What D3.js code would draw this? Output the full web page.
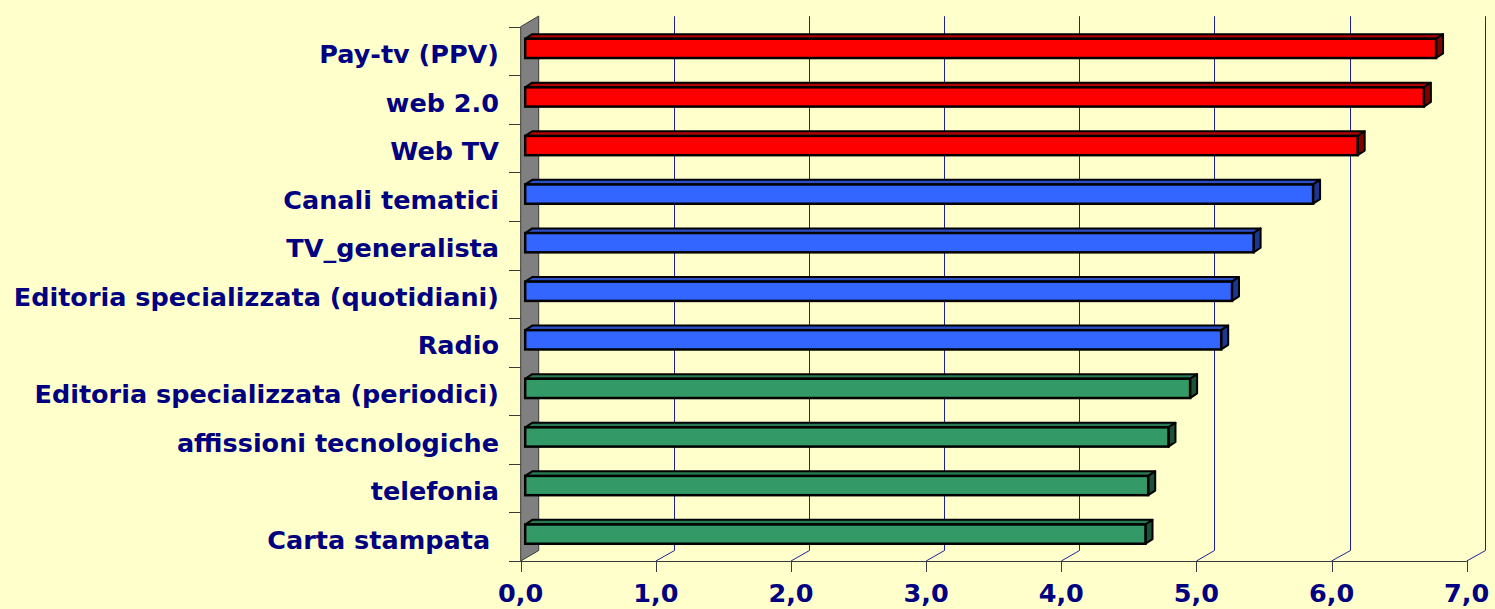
<!DOCTYPE html>
<html>
<head>
<meta charset="utf-8">
<script src="https://cdn.jsdelivr.net/npm/d3@7/dist/d3.min.js"></script>
<style>
  html, body { margin: 0; padding: 0; background: #FFFFCC; }
  svg { display: block; }
  text { font-family: "DejaVu Sans", Verdana, sans-serif; font-weight: bold; fill: #000080; white-space: pre; }
</style>
</head>
<body>
<svg id="chart" width="1495" height="609"></svg>
<script>
// values
const categories = ["Pay-tv (PPV)", "web 2.0", "Web TV", "Canali tematici", "TV_generalista",
  "Editoria specializzata (quotidiani)", "Radio", "Editoria specializzata (periodici)",
  "affissioni tecnologiche", "telefonia", "Carta stampata "];
const values = [6.74, 6.65, 6.16, 5.83, 5.39, 5.23, 5.15, 4.92, 4.76, 4.61, 4.59];
const groups = ["top", "top", "top", "mid", "mid", "mid", "mid", "low", "low", "low", "low"];
const xTicks = [0, 1, 2, 3, 4, 5, 6, 7];

const palette = {
  top: {front: "#FF0000", roof: "#B00000", side: "#800000"},
  mid: {front: "#3366FF", roof: "#2a4fc8", side: "#1c3790"},
  low: {front: "#339966", roof: "#277a52", side: "#1b5238"}
};

const svg = d3.select("#chart");
const frontLeft = 520.7, frontRight = 1466.7, plotTop = 26.7, floorY = 561;
const depth = {dx: 18, dy: -10.5};       // wall depth
const barOff = {dx: 4.5, dy: -2.6};      // bar front face inside the depth
const barDepth = {dx: 7, dy: -4.6};
const barH = 19.3;

let x = d3.scaleLinear().domain([0, 7]).range([frontLeft, frontRight]);
let y = d3.scaleBand().domain(categories).range([plotTop, floorY]).padding(0);

let g = svg.append("g");

// side wall
g.append("path")
  .attr("d", `M${frontLeft},${plotTop} L${frontLeft + depth.dx},${plotTop + depth.dy - 0.2} L${frontLeft + depth.dx},${floorY + depth.dy} L${frontLeft},${floorY} Z`)
  .attr("fill", "#808080")
  .attr("stroke", "#3a3a3a")
  .attr("stroke-width", 1);

// back gridlines + floor diagonals
xTicks.slice(1).forEach(t => {
  let bx = Math.round(x(t) + depth.dx) + 0.5;
  g.append("line")
    .attr("x1", bx).attr("x2", bx)
    .attr("y1", plotTop + depth.dy).attr("y2", floorY + depth.dy)
    .attr("stroke", "#20209a").attr("stroke-width", 1);
  g.append("line")
    .attr("x1", x(t)).attr("y1", floorY)
    .attr("x2", bx).attr("y2", floorY + depth.dy)
    .attr("stroke", "#20209a").attr("stroke-width", 1);
});

// floor front line and ticks
g.append("line")
  .attr("x1", 509).attr("x2", frontRight)
  .attr("y1", floorY + 0.5).attr("y2", floorY + 0.5)
  .attr("stroke", "#3a3a3a").attr("stroke-width", 1);

g.selectAll(".xtick").data(xTicks).join("line")
  .attr("class", "xtick")
  .attr("x1", d => Math.round(x(d)) + 0.5).attr("x2", d => Math.round(x(d)) + 0.5)
  .attr("y1", floorY).attr("y2", floorY + 11)
  .attr("stroke", "#3a3a3a").attr("stroke-width", 1);

g.selectAll(".xlab").data(xTicks).join("text")
  .attr("class", "xlab")
  .attr("x", d => x(d))
  .attr("y", 602)
  .attr("text-anchor", "middle")
  .attr("font-size", "25.5px")
  .text(d => d3.format(".1f")(d).replace(".", ","));

// left category ticks
let bounds = categories.map(c => y(c));
g.selectAll(".ytick").data(bounds).join("line")
  .attr("class", "ytick")
  .attr("x1", 509).attr("x2", frontLeft)
  .attr("y1", d => Math.round(d) + 0.5).attr("y2", d => Math.round(d) + 0.5)
  .attr("stroke", "#3a3a3a").attr("stroke-width", 1);

// category labels
g.selectAll(".ylab").data(categories).join("text")
  .attr("class", "ylab")
  .attr("x", 499)
  .attr("y", d => y(d) + y.bandwidth() / 2 + 12)
  .attr("text-anchor", "end")
  .attr("font-size", "25.5px")
  .text(d => d);

// bars
let bars = g.selectAll(".bar").data(categories).join("g").attr("class", "bar");

bars.each(function(c, i) {
  let col = palette[groups[i]];
  let x0 = x(0) + barOff.dx, x1 = x(values[i]) + barOff.dx;
  let y0 = y(c) + y.bandwidth() / 2 - barH / 2 + barOff.dy, y1 = y0 + barH;
  let el = d3.select(this);
  // top face
  el.append("path")
    .attr("d", `M${x0},${y0} L${x0 + barDepth.dx},${y0 + barDepth.dy} L${x1 + barDepth.dx},${y0 + barDepth.dy} L${x1},${y0} Z`)
    .attr("fill", col.roof).attr("stroke", "#000").attr("stroke-width", 2).attr("stroke-linejoin", "round");
  // right face
  el.append("path")
    .attr("d", `M${x1},${y0} L${x1 + barDepth.dx},${y0 + barDepth.dy} L${x1 + barDepth.dx},${y1 + barDepth.dy} L${x1},${y1} Z`)
    .attr("fill", col.side).attr("stroke", "#000").attr("stroke-width", 2).attr("stroke-linejoin", "round");
  // front face
  el.append("rect")
    .attr("x", x0).attr("y", y0)
    .attr("width", x1 - x0).attr("height", barH)
    .attr("fill", col.front).attr("stroke", "#000").attr("stroke-width", 2.5);
});
</script>
</body>
</html>
